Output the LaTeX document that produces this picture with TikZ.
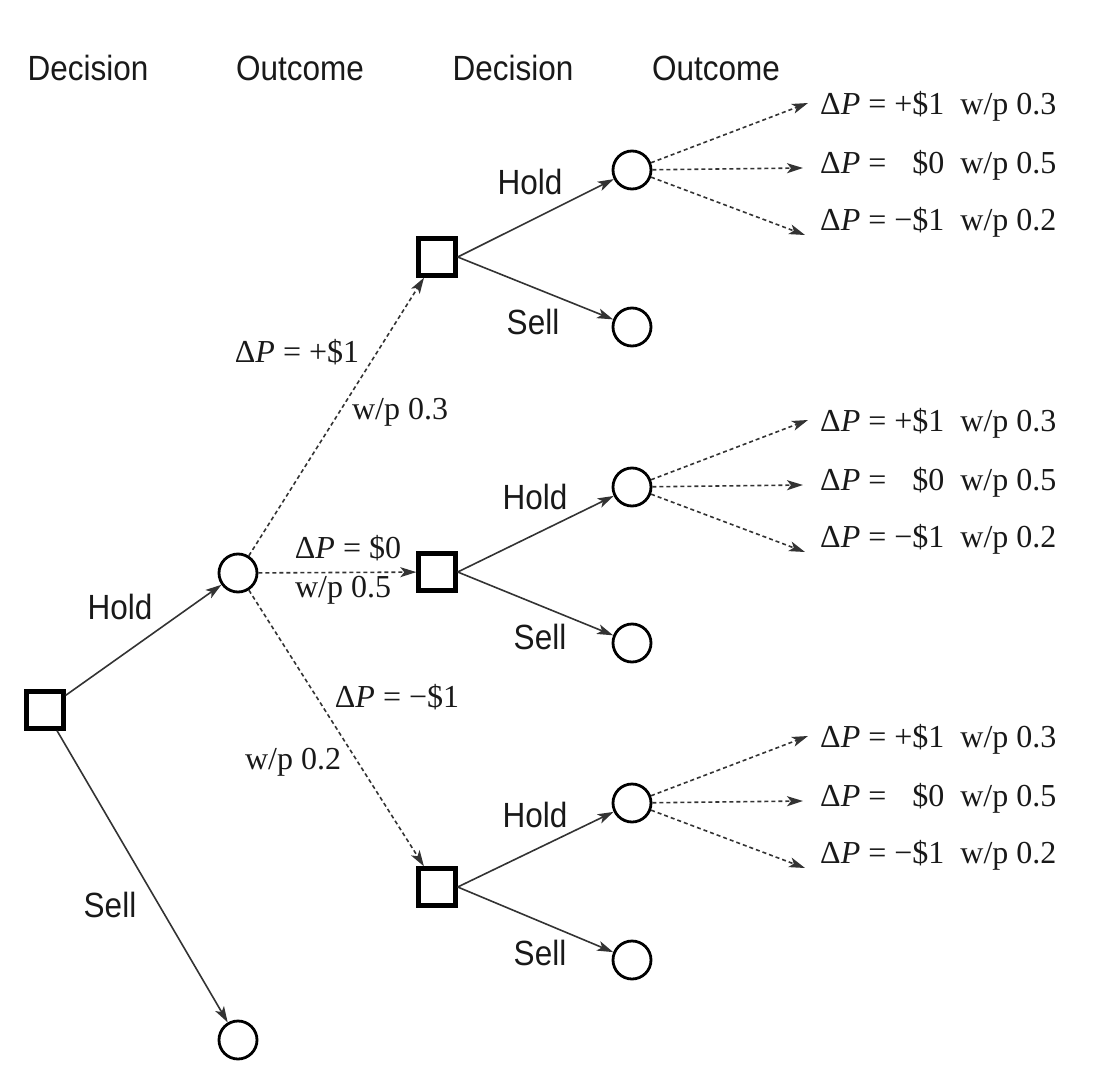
\documentclass[tikz,border=0pt]{standalone}
\usepackage{fontspec}
\setmainfont{Liberation Serif}
\newfontfamily\hfont[FakeStretch=0.9]{Liberation Sans}
\usetikzlibrary{arrows.meta}
\tikzset{
  dnode/.style={draw, line width=4.4pt, minimum size=37pt, inner sep=0pt},
  onode/.style={draw, circle, line width=2.8pt, minimum size=38pt, inner sep=0pt},
  tip/.style={-{Stealth[length=16pt,width=10pt,inset=4pt]}},
  solidarr/.style={draw=black!80, line width=1.6pt, tip},
  dasharr/.style={draw=black!80, line width=1.6pt, dash pattern=on 4pt off 3pt, tip},
  stxt/.style={font=\hfont\fontsize{35}{37}\selectfont, text=black!90, inner sep=0pt},
  mtxt/.style={font=\fontsize{32}{34}\selectfont, text=black!90, inner sep=0pt},
}
\newcommand{\dP}{Δ\textit{P}}
\begin{document}
\begin{tikzpicture}[x=1pt,y=-1pt]
\useasboundingbox (0,0) rectangle (1120,1092);
% headers
\node[stxt] (h1) at (88,68) {Decision};
\node[stxt] (h2) at (300,68) {Outcome};
\node[stxt] (h3) at (513,68) {Decision};
\node[stxt] (h4) at (716,68) {Outcome};
% nodes
\node[dnode] (root) at (45,710) {};
\node[onode] (o1) at (238,573) {};
\node[onode] (osell) at (238,1040) {};
\node[dnode] (dA) at (437,257) {};
\node[dnode] (dB) at (437,572) {};
\node[dnode] (dC) at (437,887) {};
\node[onode] (hA) at (632,170) {};
\node[onode] (sA) at (632,327) {};
\node[onode] (hB) at (632,487) {};
\node[onode] (sB) at (632,643) {};
\node[onode] (hC) at (632,803) {};
\node[onode] (sC) at (632,960) {};
% root edges
\draw[solidarr] (root) -- (o1);
\draw[solidarr] (root) -- (osell);
\node[stxt] (lh0) at (120,607) {Hold};
\node[stxt] (ls0) at (110,905) {Sell};
% outcome edges
\draw[dasharr] (o1) -- (dA);
\draw[dasharr] (o1) -- (dB);
\draw[dasharr] (o1) -- (dC);
\node[mtxt] (la1) at (297,352) {\dP{} = +\$1};
\node[mtxt] (la2) at (400,412) {w/p 0.3};
\node[mtxt] (lb1) at (348,548) {\dP{} = \$0};
\node[mtxt] (lb2) at (343,590) {w/p 0.5};
\node[mtxt] (lc1) at (397,697) {\dP{} = −\$1};
\node[mtxt] (lc2) at (293,762) {w/p 0.2};
% second decisions
\foreach \d/\h/\s in {dA/hA/sA, dB/hB/sB, dC/hC/sC}{
  \draw[solidarr] (\d.east) -- (\h);
  \draw[solidarr] (\d.east) -- (\s);
}
\node[stxt] (lhA) at (530,182) {Hold};
\node[stxt] (lsA) at (533,322) {Sell};
\node[stxt] (lhB) at (535,497) {Hold};
\node[stxt] (lsB) at (540,637) {Sell};
\node[stxt] (lhC) at (535,815) {Hold};
\node[stxt] (lsC) at (540,953) {Sell};
% final outcomes
\foreach \h/\y in {hA/170, hB/487, hC/803}{
  \coordinate (\h-u) at (808,\y-67);
  \coordinate (\h-m) at (803,\y-2);
  \coordinate (\h-d) at (805,\y+65);
  \draw[dasharr] (\h) -- (\h-u);
  \draw[dasharr] (\h) -- (\h-m);
  \draw[dasharr] (\h) -- (\h-d);
  \node[mtxt, anchor=west] (\h-tu) at (820,\y-64) {\dP{} = +\$1\ \ w/p 0.3};
  \node[mtxt, anchor=west] (\h-tm) at (820,\y-5) {\dP{} = \phantom{+}\$0\ \ w/p 0.5};
  \node[mtxt, anchor=west] (\h-td) at (820,\y+52) {\dP{} = −\$1\ \ w/p 0.2};
}
\end{tikzpicture}
\end{document}
